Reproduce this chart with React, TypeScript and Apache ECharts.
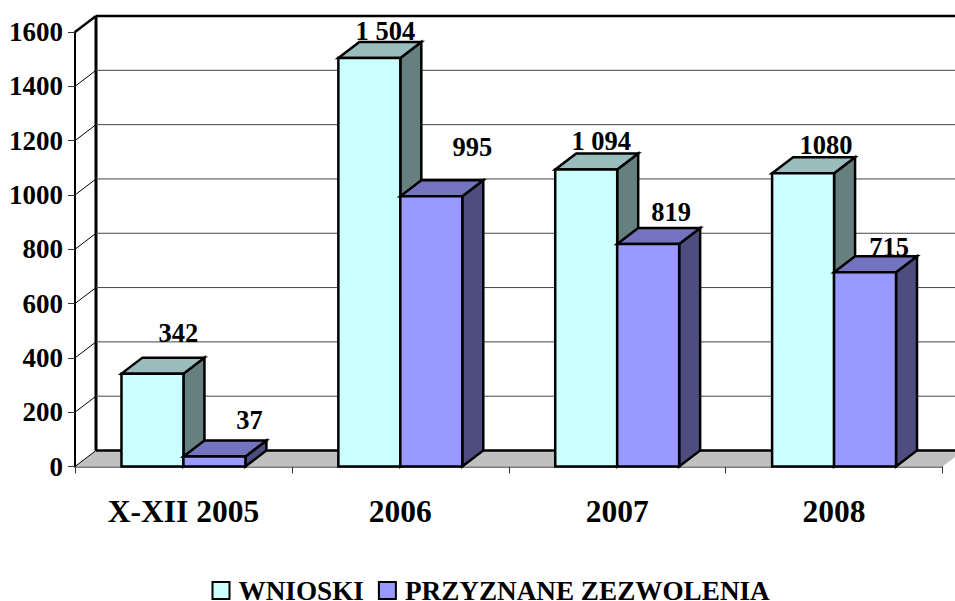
import React, { useEffect, useRef } from "react";
import * as echarts from "echarts";

const categories = ["X-XII 2005", "2006", "2007", "2008"];
const wnioski = [342, 1504, 1094, 1080];
const zezwolenia = [37, 995, 819, 715];
const wnioskiLabels = ["342", "1 504", "1 094", "1080"];
const zezwoleniaLabels = ["37", "995", "819", "715"];
const yTicks = [0, 200, 400, 600, 800, 1000, 1200, 1400, 1600];

// hand-placed label nudges of the original chart (px from top-front centre of the bar)
const wnioskiNudge = [[26, -41], [16, -27], [15, -28], [23, -28]];
const zezwoleniaNudge = [[35, -36], [41, -49], [23, -32], [24, -25]];

const FONT = "'Liberation Serif', serif";
const DX = 21;
const DY = 16;
const BAR_SHARE = 62 / 217;

function barRenderer(side: number, labels: string[], nudges: number[][], colors: string[]) {
  return (params: any, api: any) => {
    const i = api.value(0);
    const [cx, top] = api.coord([i, api.value(1)]);
    const [, base] = api.coord([i, 0]);
    const w = api.size([1, 0])[0] * BAR_SHARE;
    const x0 = side < 0 ? cx - w : cx;
    const x1 = x0 + w;
    const stroke = { stroke: "#000", lineWidth: 2.5, lineJoin: "miter" };
    return {
      type: "group",
      children: [
        {
          type: "polygon",
          shape: { points: [[x1, top], [x1 + DX, top - DY], [x1 + DX, base - DY], [x1, base]] },
          style: { fill: colors[2], ...stroke },
        },
        {
          type: "polygon",
          shape: { points: [[x0, top], [x0 + DX, top - DY], [x1 + DX, top - DY], [x1, top]] },
          style: { fill: colors[1], ...stroke },
        },
        {
          type: "rect",
          shape: { x: x0, y: top, width: w, height: base - top },
          style: { fill: colors[0], ...stroke },
        },
        {
          type: "text",
          style: {
            text: labels[i],
            x: x0 + w / 2 + nudges[i][0],
            y: top + nudges[i][1],
            align: "center",
            verticalAlign: "middle",
            fontFamily: FONT,
            fontWeight: "bold",
            fontSize: 26.5,
            fill: "#000",
          },
        },
      ],
    };
  };
}

function frameRenderer(params: any, api: any) {
  const v = api.value(0);
  const [left, y] = api.coord([0, v]);
  const size = api.size([1, 0])[0];
  const x0 = left - size / 2;
  const x1 = x0 + size * categories.length;
  const children: any[] = [];
  if (v === 0) {
    children.push({
      type: "polygon",
      shape: { points: [[x0, y], [x0 + DX, y - DY], [x1 + DX, y - DY], [x1, y]] },
      style: { fill: "#c0c0c0" },
    });
    children.push({
      type: "line",
      shape: { x1: x0 + DX, y1: y - DY, x2: x0 + DX, y2: api.coord([0, yTicks[yTicks.length - 1]])[1] - DY },
      style: { stroke: "#000", lineWidth: 3 },
    });
  }
  const heavy = v === 0 || v === yTicks[yTicks.length - 1];
  children.push({
    type: "line",
    shape: { x1: x0, y1: y, x2: x0 + DX, y2: y - DY },
    style: { stroke: "#000", lineWidth: v === yTicks[yTicks.length - 1] ? 2.5 : 1 },
  });
  children.push({
    type: "line",
    shape: { x1: x0 + DX, y1: y - DY, x2: x1 + DX, y2: y - DY },
    style: { stroke: heavy ? "#000" : "#444", lineWidth: heavy ? 2.5 : 1 },
  });
  return { type: "group", children };
}

export default function App() {
  const ref = useRef<HTMLDivElement>(null);
  useEffect(() => {
    const chart = echarts.init(ref.current!, undefined, { renderer: "svg" });
    chart.setOption({
      animation: false,
      backgroundColor: "#fff",
      grid: { left: 75, right: 12.5, top: 32, bottom: 134.5, containLabel: false },
      legend: {
        left: 211.5,
        top: 577,
        padding: 0,
        icon: "rect",
        itemWidth: 17,
        itemHeight: 17,
        itemGap: 14,
        data: ["WNIOSKI", "PRZYZNANE ZEZWOLENIA"],
        textStyle: {
          fontFamily: FONT,
          fontWeight: "bold",
          fontSize: 27.2,
          lineHeight: 20,
          color: "#000",
          padding: [0, 0, 0, 4],
        },
      },
      xAxis: {
        type: "category",
        data: categories,
        axisLine: { lineStyle: { color: "#555", width: 1.5 } },
        axisTick: { show: true, length: 7, alignWithLabel: false, lineStyle: { color: "#333", width: 1 } },
        axisLabel: { interval: 0, margin: 29, fontFamily: FONT, fontWeight: "bold", fontSize: 31.5, color: "#000" },
        splitLine: { show: false },
      },
      yAxis: {
        type: "value",
        min: 0,
        max: 1600,
        interval: 200,
        axisLine: { show: true, lineStyle: { color: "#000", width: 2 } },
        axisTick: { show: true, length: 7, lineStyle: { color: "#333", width: 1 } },
        axisLabel: {
          margin: 12,
          fontFamily: FONT,
          fontWeight: "bold",
          fontSize: 27,
          color: "#000",
          formatter: (v: number) => String(v),
        },
        splitLine: { show: false },
      },
      series: [
        {
          type: "custom",
          name: "frame",
          silent: true,
          clip: false,
          z: 1,
          encode: { y: 0 },
          data: yTicks.map((t) => [t]),
          renderItem: frameRenderer,
        },
        {
          type: "custom",
          name: "WNIOSKI",
          clip: false,
          z: 2,
          encode: { x: 0, y: 1 },
          itemStyle: { color: "#ccffff", borderColor: "#000", borderWidth: 3 },
          data: wnioski.map((v, i) => [i, v]),
          renderItem: barRenderer(-1, wnioskiLabels, wnioskiNudge, ["#ccffff", "#99bdbd", "#668080"]),
        },
        {
          type: "custom",
          name: "PRZYZNANE ZEZWOLENIA",
          clip: false,
          z: 3,
          encode: { x: 0, y: 1 },
          itemStyle: { color: "#9999ff", borderColor: "#000", borderWidth: 3 },
          data: zezwolenia.map((v, i) => [i, v]),
          renderItem: barRenderer(1, zezwoleniaLabels, zezwoleniaNudge, ["#9999ff", "#7373bf", "#4d4d80"]),
        },
      ],
    });
    return () => chart.dispose();
  }, []);
  return <div ref={ref} style={{ position: "absolute", left: 0, top: 0, width: 955, height: 601 }} />;
}
